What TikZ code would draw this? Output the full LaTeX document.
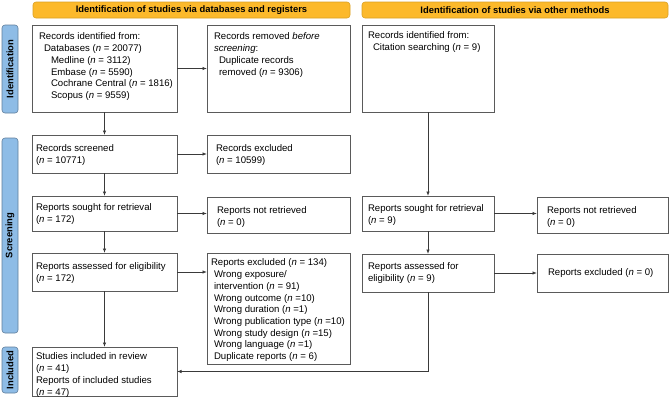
\documentclass[tikz,border=0pt]{standalone}
\usepackage{fontspec}
\setmainfont{Liberation Sans}
\usetikzlibrary{arrows.meta}
\definecolor{bannerfill}{HTML}{FCB92B}
\definecolor{bannerline}{HTML}{D9A024}
\definecolor{sidefill}{HTML}{8EBCE6}
\definecolor{sideline}{HTML}{5F7E9C}
\definecolor{boxline}{HTML}{5A5A5A}
\definecolor{arrowline}{HTML}{3A3A3A}
\begin{document}
\begin{tikzpicture}[x=1pt,y=-1pt,
  box/.style={draw=boxline, line width=0.8pt, inner sep=0pt, outer sep=0pt, anchor=north west, fill=white},
  txt/.style={inner sep=0pt, outer sep=0pt, anchor=north west, align=left, font=\fontsize{9.6}{11.7}\selectfont},
  banner/.style={draw=bannerline, fill=bannerfill, line width=0.6pt, rounded corners=3pt, inner sep=0pt, font=\bfseries\fontsize{9.4}{11}\selectfont},
  side/.style={draw=sideline, fill=sidefill, line width=0.6pt, rounded corners=3pt, inner sep=0pt},
  sidetxt/.style={rotate=90, inner sep=0pt, font=\bfseries\fontsize{9.4}{11}\selectfont},
  arr/.style={draw=arrowline, line width=0.8pt, -{Latex[length=4.5pt,width=3.5pt]}},
  lin/.style={draw=arrowline, line width=0.8pt}]
\useasboundingbox (0,0) rectangle (670,400);

% banners
\node[banner, minimum width=317pt, minimum height=16pt] (ban1) at (191.5,10) {Identification of studies via databases and registers};
\node[banner, minimum width=306pt, minimum height=16pt] (ban2) at (515,10) {Identification of studies via other methods};

% side labels
\node[side, minimum width=16pt, minimum height=88pt] (s1) at (10,69) {};
\node[sidetxt] (s1t) at (s1.center) {Identification};
\node[side, minimum width=16pt, minimum height=195pt] (s2) at (10,235.5) {};
\node[sidetxt] (s2t) at (s2.center) {Screening};
\node[side, minimum width=16pt, minimum height=46pt] (s3) at (10,370) {};
\node[sidetxt] (s3t) at (s3.center) {Included};

% boxes
\node[box, minimum width=145pt, minimum height=87pt] (a) at (32,25) {};
\node[box, minimum width=143pt, minimum height=87pt] (b) at (207,25) {};
\node[box, minimum width=132pt, minimum height=87pt] (c) at (362,25) {};
\node[box, minimum width=145pt, minimum height=38pt] (d) at (32,135) {};
\node[box, minimum width=143pt, minimum height=38pt] (e) at (207,135) {};
\node[box, minimum width=145pt, minimum height=35pt] (f) at (32,196) {};
\node[box, minimum width=143pt, minimum height=36pt] (g) at (207,197) {};
\node[box, minimum width=132pt, minimum height=35pt] (h) at (362,196) {};
\node[box, minimum width=131pt, minimum height=36pt] (i) at (537,197) {};
\node[box, minimum width=145pt, minimum height=38pt] (j) at (32,253) {};
\node[box, minimum width=143pt, minimum height=111pt] (k) at (207,253) {};
\node[box, minimum width=132pt, minimum height=38pt] (l) at (362,254) {};
\node[box, minimum width=131pt, minimum height=38pt] (m) at (537,254) {};
\node[box, minimum width=145pt, minimum height=49pt] (n) at (32,347) {};

% texts
\node[txt] (ta) at ([xshift=7pt,yshift=-8pt]a.north west) {Records identified from:\\
\hspace*{5pt}Databases (\textit{n} = 20077)\\
\hspace*{12pt}Medline (\textit{n} = 3112)\\
\hspace*{12pt}Embase (\textit{n} = 5590)\\
\hspace*{12pt}Cochrane Central (\textit{n} = 1816)\\
\hspace*{12pt}Scopus (\textit{n} = 9559)};
\node[txt] (tb) at ([xshift=7pt,yshift=-8pt]b.north west) {Records removed \textit{before}\\
\textit{screening}:\\
\hspace*{5pt}Duplicate records\\
\hspace*{5pt}removed (\textit{n} = 9306)};
\node[txt] (tc) at ([xshift=6pt,yshift=-7pt]c.north west) {Records identified from:\\
\hspace*{5pt}Citation searching (\textit{n} = 9)};
\node[txt] (td) at ([xshift=4pt,yshift=-10pt]d.north west) {Records screened\\(\textit{n} = 10771)};
\node[txt] (te) at ([xshift=9pt,yshift=-10pt]e.north west) {Records excluded\\(\textit{n} = 10599)};
\node[txt] (tf) at ([xshift=4pt,yshift=-8pt]f.north west) {Reports sought for retrieval\\(\textit{n} = 172)};
\node[txt] (tg) at ([xshift=10pt,yshift=-10pt]g.north west) {Reports not retrieved\\(\textit{n} = 0)};
\node[txt] (th) at ([xshift=6pt,yshift=-9pt]h.north west) {Reports sought for retrieval\\(\textit{n} = 9)};
\node[txt] (ti) at ([xshift=10pt,yshift=-10pt]i.north west) {Reports not retrieved\\(\textit{n} = 0)};
\node[txt] (tj) at ([xshift=4pt,yshift=-10pt]j.north west) {Reports assessed for eligibility\\(\textit{n} = 172)};
\node[txt] (tk) at ([xshift=4pt,yshift=-6pt]k.north west) {Reports excluded (\textit{n} = 134)\\
\hspace*{3pt}Wrong exposure/\\
\hspace*{3pt}intervention (\textit{n} = 91)\\
\hspace*{3pt}Wrong outcome (\textit{n} =10)\\
\hspace*{3pt}Wrong duration (\textit{n} =1)\\
\hspace*{3pt}Wrong publication type (\textit{n} =10)\\
\hspace*{3pt}Wrong study design (\textit{n} =15)\\
\hspace*{3pt}Wrong language (\textit{n} =1)\\
\hspace*{3pt}Duplicate reports (\textit{n} = 6)};
\node[txt] (tl) at ([xshift=6pt,yshift=-9pt]l.north west) {Reports assessed for\\eligibility (\textit{n} = 9)};
\node[txt, anchor=west] (tm) at ([xshift=11pt]m.west) {Reports excluded (\textit{n} = 0)};
\node[txt] (tn) at ([xshift=4pt,yshift=-6pt]n.north west) {Studies included in review\\(\textit{n} = 41)\\Reports of included studies\\(\textit{n} = 47)};

% connectors
\draw[arr] (a.east) -- (a.east -| b.west);
\draw[arr] (a.south) -- (d.north);
\draw[arr] (d.east) -- (d.east -| e.west);
\draw[arr] (d.south) -- (f.north);
\draw[arr] (f.east) -- (f.east -| g.west);
\draw[arr] (f.south) -- (j.north);
\draw[arr] (j.east) -- (j.east -| k.west);
\draw[arr] (j.south) -- (n.north);
\draw[arr] (c.south) -- (h.north);
\draw[arr] (h.east) -- (h.east -| i.west);
\draw[arr] (h.south) -- (l.north);
\draw[arr] (l.east) -- (l.east -| m.west);
\coordinate (corner) at (l.south |- n.east);
\draw[lin] (l.south) -- (corner);
\draw[arr] (corner) -- (n.east);
\end{tikzpicture}
\end{document}
